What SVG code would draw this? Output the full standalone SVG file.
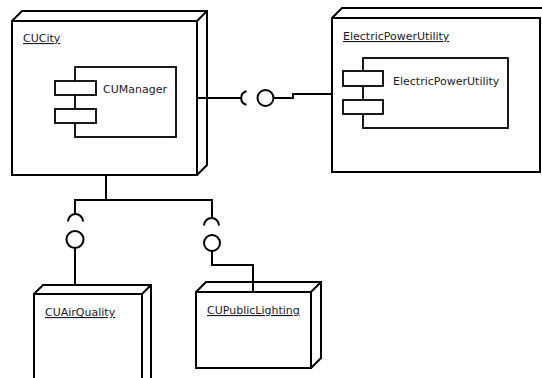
<svg xmlns="http://www.w3.org/2000/svg" width="542" height="378" viewBox="0 0 542 378">
  <style>
    .edge { fill: none; stroke: #000; stroke-width: 2; stroke-linejoin: miter; }
    .face { fill: #fff; stroke: #000; stroke-width: 2; }
    .comp { fill: #fff; stroke: #000; stroke-width: 1.8; }
    .wire { fill: none; stroke: #000; stroke-width: 2; }
    .ball { fill: #fff; stroke: #000; stroke-width: 2; }
    .lbl { font-family: "DejaVu Sans", Verdana, sans-serif; font-size: 11px; fill: #1a1a2a; }
    .title { text-decoration: underline; }
  </style>
  <rect width="542" height="378" fill="#fff"/>

  <!-- connectors -->
  <g id="connectors">
    <!-- CUCity to ElectricPowerUtility (assembly connector) -->
    <path class="wire" d="M197,98 H241"/>
    <path class="wire" d="M246.5,91.2 A7,7 0 0 0 246.5,104.8"/>
    <circle class="ball" cx="265.5" cy="98" r="8"/>
    <path class="wire" d="M273.5,98 H293 V94 H332"/>
    <!-- CUCity down to the two lower nodes -->
    <path class="wire" d="M106,175 V200"/>
    <path class="wire" d="M75,213.5 V200 H212 V218"/>
    <path class="wire" d="M68,221.5 A7.5,7.5 0 0 1 83,221.5"/>
    <path class="wire" d="M204,225.5 A7.5,7.5 0 0 1 219,225.5"/>
    <circle class="ball" cx="75" cy="239.5" r="8.5"/>
    <circle class="ball" cx="212" cy="243" r="8"/>
    <path class="wire" d="M75,248 V285"/>
    <path class="wire" d="M212,251 V265 H253 V292"/>
  </g>

  <!-- CUCity node -->
  <g id="CUCity">
    <rect class="face" x="12" y="21" width="185" height="154"/>
    <path class="edge" d="M12,21 L22,11 H207 V165 L197,175 M197,21 L207,11"/>
    <text class="lbl title" x="23" y="42">CUCity</text>
    <g id="CUManager">
      <rect class="comp" x="75" y="67" width="101" height="70"/>
      <rect class="comp" x="55" y="81" width="41" height="14"/>
      <rect class="comp" x="55" y="109" width="41" height="14"/>
      <text class="lbl" x="103" y="93">CUManager</text>
    </g>
  </g>

  <!-- ElectricPowerUtility node -->
  <g id="ElectricPowerUtility">
    <rect class="face" x="332" y="18" width="208" height="154"/>
    <path class="edge" d="M332,18 L342,8 H560"/>
    <text class="lbl title" x="343" y="40">ElectricPowerUtility</text>
    <g id="ElectricPowerUtilityComponent">
      <rect class="comp" x="363" y="58" width="145" height="70"/>
      <rect class="comp" x="343" y="71" width="40" height="15"/>
      <rect class="comp" x="343" y="100" width="40" height="14"/>
      <text class="lbl" x="393" y="85">ElectricPowerUtility</text>
    </g>
  </g>

  <!-- CUAirQuality node -->
  <g id="CUAirQuality">
    <rect class="face" x="34" y="294" width="108" height="100"/>
    <path class="edge" d="M34,294 L43,285 H151 V390 M142,294 L151,285"/>
    <text class="lbl title" x="45" y="316">CUAirQuality</text>
  </g>

  <!-- CUPublicLighting node -->
  <g id="CUPublicLighting">
    <rect class="face" x="196" y="292" width="115" height="76"/>
    <path class="edge" d="M196,292 L206,282 H321 V358 L311,368 M311,292 L321,282"/>
    <text class="lbl title" x="207" y="314">CUPublicLighting</text>
  </g>
</svg>
